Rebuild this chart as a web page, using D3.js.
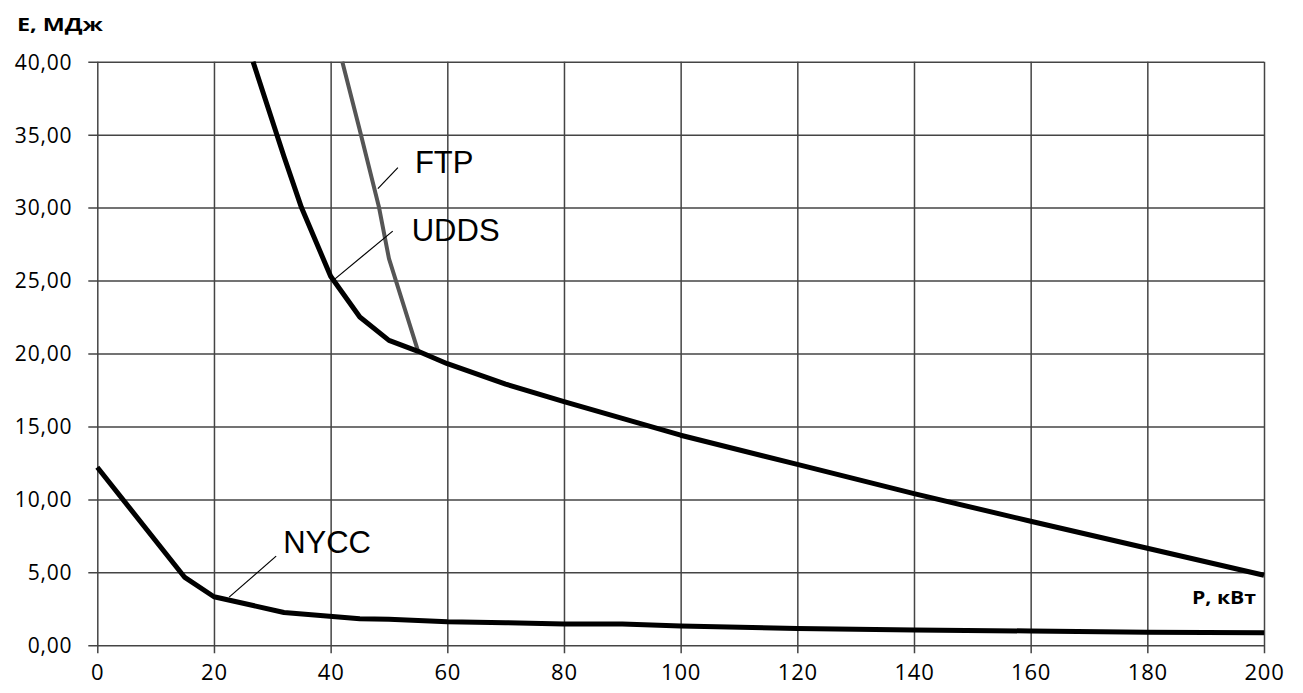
<!DOCTYPE html>
<html>
<head>
<meta charset="utf-8">
<script src="https://cdnjs.cloudflare.com/ajax/libs/d3/7.8.5/d3.min.js"></script>
<style>
  body { margin: 0; background: #fff; }
  svg { display: block; }
</style>
</head>
<body>
<script>
// data
var xTicks = [0, 20, 40, 60, 80, 100, 120, 140, 160, 180, 200];
var yTicks = [0, 5, 10, 15, 20, 25, 30, 35, 40];

var uddsP = [26.7, 32, 35, 40, 45, 50, 55, 60, 70, 80, 90, 100, 120, 140, 160, 180, 200];
var uddsE = [40, 33.5, 30.0, 25.3, 22.5, 20.9, 20.15, 19.3, 17.9, 16.7, 15.55, 14.4, 12.4, 10.4, 8.5, 6.65, 4.8];

var ftpP = [42, 45, 48.3, 50, 55];
var ftpE = [40, 35.3, 30, 26.5, 20.15];

var nyccP = [0, 15, 20, 32, 45, 50, 60, 70, 80, 90, 100, 120, 140, 160, 180, 200];
var nyccE = [12.2, 4.65, 3.33, 2.25, 1.82, 1.78, 1.62, 1.55, 1.46, 1.46, 1.32, 1.16, 1.05, 0.98, 0.89, 0.86];

// labels: name, point on curve (P, E)
var labelNames = ["FTP", "UDDS", "NYCC"];
var labelP = [48.1, 40.7, 22.6];
var labelE = [31.3, 25.1, 3.3];

var W = 1303, H = 693;
var mLeft = 97.3, mRight = 1264, mTop = 61.7, mBottom = 645.3;

var svg = d3.select("body").append("svg")
    .attr("width", W)
    .attr("height", H);

var x = d3.scaleLinear().domain([0, 200]).range([mLeft, mRight]);
var y = d3.scaleLinear().domain([0, 40]).range([mBottom, mTop]);

var gridColor = "#444";

// horizontal grid + ticks on the left
var gy = svg.append("g")
    .attr("transform", "translate(" + mLeft + ",0)")
    .call(d3.axisLeft(y).tickValues(yTicks).tickSize(-(mRight - mLeft)).tickSizeOuter(0)
        .tickFormat(function(d) { return d3.format(".2f")(d).replace(".", ","); }));
gy.select(".domain").remove();
gy.selectAll(".tick line").attr("stroke", gridColor).attr("stroke-width", 1.5).attr("x1", -9);
gy.selectAll(".tick text")
    .attr("x", -25)
    .attr("dy", "0.35em")
    .attr("fill", "#000")
    .style("font-family", "'Open Sans', sans-serif")
    .style("font-size", "21px")
    .style("letter-spacing", "0.8px");

// vertical grid + ticks at the bottom
var gx = svg.append("g")
    .attr("transform", "translate(0," + mBottom + ")")
    .call(d3.axisBottom(x).tickValues(xTicks).tickSize(-(mBottom - mTop)).tickSizeOuter(0)
        .tickFormat(d3.format("d")));
gx.select(".domain").remove();
gx.selectAll(".tick line").attr("stroke", gridColor).attr("stroke-width", 1.5).attr("y1", 8);
gx.selectAll(".tick text")
    .attr("y", 27)
    .attr("dy", "0.35em")
    .attr("fill", "#000")
    .style("font-family", "'Open Sans', sans-serif")
    .style("font-size", "22px")
    .style("letter-spacing", "0.8px");

// curves
var line = d3.line()
    .x(function(d) { return x(d[0]); })
    .y(function(d) { return y(d[1]); });

function pairs(ps, es) { return ps.map(function(p, i) { return [p, es[i]]; }); }

svg.append("path")
    .datum(pairs(ftpP, ftpE))
    .attr("d", line)
    .attr("fill", "none")
    .attr("stroke", "#555")
    .attr("stroke-width", 4)
    .attr("stroke-linejoin", "round");

[pairs(uddsP, uddsE), pairs(nyccP, nyccE)].forEach(function(s) {
    svg.append("path")
        .datum(s)
        .attr("d", line)
        .attr("fill", "none")
        .attr("stroke", "#000")
        .attr("stroke-width", 5)
        .attr("stroke-linejoin", "round");
});

// leader lines + labels
var leadDx = [20, 58, 47], leadDy = [-21, -48, -41];
var textDx = [37, 77, 54], textDy = [-16, -38, -44];

labelNames.forEach(function(name, i) {
    var px = x(labelP[i]), py = y(labelE[i]);
    svg.append("line")
        .attr("x1", px).attr("y1", py)
        .attr("x2", px + leadDx[i]).attr("y2", py + leadDy[i])
        .attr("stroke", "#000")
        .attr("stroke-width", 1.2);
    svg.append("text")
        .attr("x", px + textDx[i])
        .attr("y", py + textDy[i])
        .text(name)
        .style("font-family", "'Liberation Sans', Arial, sans-serif")
        .style("font-size", "31px")
        .attr("fill", "#000");
});

// axis titles
svg.append("text")
    .attr("x", 17).attr("y", 31)
    .text("E, МДж")
    .attr("textLength", 86)
    .attr("lengthAdjust", "spacingAndGlyphs")
    .style("font-family", "'Open Sans', sans-serif")
    .style("font-weight", "bold")
    .style("font-size", "18px");

svg.append("text")
    .attr("x", 1192).attr("y", 604)
    .text("P, кВт")
    .attr("textLength", 64)
    .attr("lengthAdjust", "spacingAndGlyphs")
    .style("font-family", "'Open Sans', sans-serif")
    .style("font-weight", "bold")
    .style("font-size", "18px");
</script>
</body>
</html>
